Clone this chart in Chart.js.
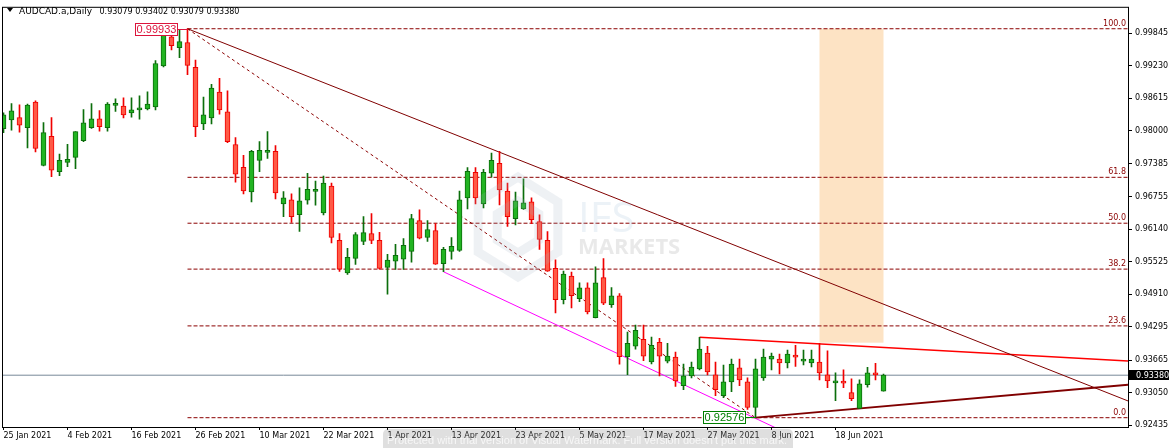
<!DOCTYPE html>
<html>
<head>
<meta charset="utf-8">
<script src="https://cdn.jsdelivr.net/npm/chart.js@4.4.0/dist/chart.umd.min.js"></script>
<style>
html, body { margin: 0; padding: 0; background: #fff; overflow: hidden; }
</style>
</head>
<body>
<canvas id="chart" width="1175" height="448"></canvas>
<script>
// AUDCAD.a daily candles, 25 Jan 2021 .. 28 Jun 2021 (one entry per trading day)
var symbolName = 'AUDCAD.a,Daily';
var opens = [0.98042,0.98210,0.98253,0.98061,0.98547,0.97350,0.97898,0.97230,0.97406,0.97500,
  0.97818,0.98061,0.98229,0.98061,0.98483,0.98472,0.98341,0.98397,0.98416,0.98453,
  0.99231,0.99781,0.99575,0.99669,0.99201,0.98135,0.98248,0.98734,0.98360,0.97743,
  0.97313,0.96845,0.97444,0.97593,0.97612,0.96621,0.96696,0.96415,0.96692,0.96856,
  0.96449,0.96957,0.95929,0.95312,0.95588,0.95910,0.96060,0.95929,0.95420,0.95536,
  0.95574,0.95723,0.96303,0.95985,0.96116,0.95491,0.95723,0.95742,0.96733,0.97219,
  0.96621,0.97200,0.97387,0.96864,0.96340,0.96527,0.96658,0.96284,0.95929,0.95401,
  0.94807,0.95256,0.94826,0.95031,0.94466,0.95224,0.94713,0.94882,0.93728,0.93928,
  0.94059,0.93629,0.94003,0.93647,0.93722,0.93180,0.93367,0.93498,0.93797,0.93386,
  0.92993,0.93255,0.93517,0.93255,0.92769,0.93330,0.93685,0.93685,0.93610,0.93760,
  0.93647,0.93610,0.93629,0.93386,0.93236,0.93236,0.93049,0.92750,0.93199,0.93404,
  0.93079];
var highs = [0.98341,0.98515,0.98496,0.98509,0.98571,0.98160,0.98253,0.97561,0.97748,0.97990,
  0.98403,0.98515,0.98384,0.98534,0.98609,0.98627,0.98627,0.98665,0.98739,0.99332,
  0.99918,0.99856,0.99910,0.99933,0.99338,0.98640,0.98883,0.98996,0.98758,0.97874,
  0.97537,0.97631,0.97799,0.97986,0.97724,0.96851,0.96808,0.96926,0.97200,0.97051,
  0.97144,0.97013,0.96060,0.95779,0.96078,0.96380,0.96439,0.96084,0.95667,0.95854,
  0.95966,0.96421,0.96509,0.96303,0.96247,0.95798,0.95985,0.96864,0.97305,0.97305,
  0.97275,0.97580,0.97612,0.97013,0.96845,0.97094,0.96733,0.96415,0.96097,0.95560,
  0.95349,0.95330,0.95125,0.95125,0.95430,0.95585,0.95037,0.94925,0.94195,0.94326,
  0.94326,0.94102,0.94078,0.93984,0.93816,0.93591,0.93629,0.94096,0.93928,0.93629,
  0.93573,0.93685,0.93685,0.93330,0.93685,0.93872,0.93797,0.93778,0.93853,0.93947,
  0.93853,0.93853,0.93984,0.93840,0.93423,0.93479,0.93311,0.93292,0.93528,0.93603,
  0.93402];
var lows = [0.97967,0.98016,0.97978,0.97679,0.97604,0.97340,0.97137,0.97156,0.97324,0.97286,
  0.97799,0.98048,0.97997,0.97997,0.98371,0.98248,0.98259,0.98221,0.98397,0.98397,
  0.99213,0.99530,0.99388,0.99063,0.97892,0.98023,0.98135,0.98315,0.97780,0.97032,
  0.96808,0.96658,0.97230,0.97481,0.96714,0.96378,0.96271,0.96097,0.96613,0.96598,
  0.96411,0.95884,0.95342,0.95286,0.95473,0.95847,0.95869,0.95383,0.94912,0.95379,
  0.95379,0.95517,0.95959,0.95910,0.95476,0.95336,0.95574,0.95723,0.96527,0.96621,
  0.96546,0.97126,0.96602,0.96196,0.96221,0.96514,0.96247,0.95761,0.95342,0.94556,
  0.94728,0.94653,0.94769,0.94541,0.94463,0.94713,0.94663,0.93588,0.93391,0.93872,
  0.93653,0.93591,0.93367,0.93610,0.93167,0.93105,0.93330,0.93479,0.93386,0.92993,
  0.92956,0.93068,0.93180,0.92731,0.92576,0.93279,0.93479,0.93404,0.93517,0.93546,
  0.93573,0.93535,0.93292,0.93143,0.92899,0.93143,0.92899,0.92746,0.93154,0.93292,
  0.93079];
var closes = [0.98304,0.98379,0.98109,0.98491,0.97668,0.97967,0.97257,0.97444,0.97462,0.97986,
  0.98154,0.98229,0.98079,0.98509,0.98491,0.98304,0.98397,0.98435,0.98509,0.99276,
  0.99893,0.99613,0.99688,0.99239,0.98079,0.98304,0.98809,0.98397,0.97799,0.97182,
  0.96864,0.97612,0.97631,0.97631,0.96826,0.96733,0.96378,0.96677,0.96897,0.96883,
  0.97013,0.95985,0.95387,0.95611,0.96041,0.96078,0.95929,0.95401,0.95555,0.95648,
  0.95835,0.96340,0.95972,0.96135,0.95480,0.95761,0.95817,0.96696,0.97238,0.96733,
  0.97219,0.97444,0.96883,0.96378,0.96677,0.96639,0.96322,0.95948,0.95349,0.94807,
  0.95293,0.94882,0.95031,0.94579,0.95125,0.94743,0.94882,0.93728,0.93984,0.94227,
  0.93741,0.93947,0.93741,0.93741,0.93273,0.93367,0.93535,0.93872,0.93442,0.93105,
  0.93255,0.93591,0.93292,0.92769,0.93498,0.93722,0.93741,0.93610,0.93778,0.93722,
  0.93685,0.93685,0.93423,0.93273,0.93255,0.93229,0.92937,0.93217,0.93423,0.93386,
  0.93380];

// time axis labels, one every 8 bars starting at bar 0
var dateLabels = ['25 Jan 2021', '4 Feb 2021', '16 Feb 2021', '26 Feb 2021', '10 Mar 2021',
  '22 Mar 2021', '1 Apr 2021', '13 Apr 2021', '23 Apr 2021', '5 May 2021', '17 May 2021',
  '27 May 2021', '8 Jun 2021', '18 Jun 2021'];
var dateStep = 8;
var priceTicks = [0.99845, 0.99230, 0.98615, 0.98000, 0.97385, 0.96755, 0.96140,
  0.95525, 0.94910, 0.94295, 0.93665, 0.93050, 0.92435];

// fibonacci retracement between the swing high and swing low
var fibLevels = [100.0, 61.8, 50.0, 38.2, 23.6, 0.0];
var fibBars = [23, 94];
var fibPrices = [0.99933, 0.92576];

// drawn objects: [bar, price] anchor pairs
var downTrend = [[23, 0.99933], [110, 0.94723]];
var resistLine = [[87, 0.94096], [110, 0.93904]];
var supportLine = [[94, 0.92576], [107, 0.92750]];
var channelLine = [[55, 0.95336], [97, 0.92350]];
var zoneBars = [102, 110];
var zonePrices = [0.93995, 0.99933];

var xMin = -0.1875, xMax = 140.5625;
var yMin = 0.92400, yMax = 1.00329;

var bullFill = '#22b422', bullLine = '#0b6e0b';
var bearFill = '#ff5a46', bearLine = '#f00000';
var fibColor = '#8b0000';
var trendColor = '#800000';

var wickData = [], bodyData = [], fillColors = [], lineColors = [];
for (var i = 0; i < opens.length; i++) {
    var up = closes[i] >= opens[i];
    wickData.push({ x: i, y: [lows[i], highs[i]] });
    bodyData.push({ x: i, y: [opens[i], closes[i]] });
    fillColors.push(up ? bullFill : bearFill);
    lineColors.push(up ? bullLine : bearLine);
}

// extend a line through two anchors up to the right edge
function ray(a, b) {
    var slope = (b[1] - a[1]) / (b[0] - a[0]);
    return [{ x: a[0], y: a[1] }, { x: xMax, y: a[1] + slope * (xMax - a[0]) }];
}

function fibPrice(level) {
    return fibPrices[1] + (fibPrices[0] - fibPrices[1]) * level / 100;
}

var datasets = [
    { type: 'bar', data: bodyData, backgroundColor: fillColors, borderColor: lineColors,
      borderWidth: 1, borderSkipped: false, barThickness: 5, minBarLength: 2, grouped: false, order: 0 },
    { type: 'bar', data: wickData, backgroundColor: lineColors, borderWidth: 0,
      barThickness: 1, grouped: false, order: 1 },
    { type: 'line', data: ray(downTrend[0], downTrend[1]), borderColor: trendColor, borderWidth: 1, order: 3 },
    { type: 'line', data: ray(resistLine[0], resistLine[1]), borderColor: '#ff0000', borderWidth: 1.5, order: 3 },
    { type: 'line', data: ray(supportLine[0], supportLine[1]), borderColor: trendColor, borderWidth: 1.8, order: 3 },
    { type: 'line', data: ray(channelLine[0], channelLine[1]), borderColor: '#ff00ff', borderWidth: 1, order: 3 },
    { type: 'line', data: [{ x: fibBars[0], y: fibPrices[0] }, { x: fibBars[1], y: fibPrices[1] }],
      borderColor: fibColor, borderWidth: 1, borderDash: [3, 3], order: 4 },
    { type: 'line', data: [{ x: xMin, y: closes[closes.length - 1] }, { x: xMax, y: closes[closes.length - 1] }],
      borderColor: '#778899', borderWidth: 1, order: 4 }
];
fibLevels.forEach(function (lvl) {
    var p = fibPrice(lvl);
    datasets.push({ type: 'line', data: [{ x: fibBars[0], y: p }, { x: xMax, y: p }],
        borderColor: fibColor, borderWidth: 1, borderDash: [4, 2], order: 5 });
});
datasets.forEach(function (d) {
    if (d.type === 'line') { d.pointRadius = 0; d.tension = 0; d.fill = false; }
});

var overlayPlugin = {
    id: 'mt4Overlay',
    beforeDatasetsDraw: function (chart) {
        var ctx = chart.ctx, xs = chart.scales.x, ys = chart.scales.y;
        var x1 = xs.getPixelForValue(zoneBars[0]), x2 = xs.getPixelForValue(zoneBars[1]);
        var y1 = ys.getPixelForValue(zonePrices[1]), y2 = ys.getPixelForValue(zonePrices[0]);
        ctx.save();
        ctx.fillStyle = '#fde3c4';
        ctx.fillRect(x1, y1, x2 - x1, y2 - y1);
        ctx.restore();
    },
    afterDraw: function (chart) {
        var ctx = chart.ctx, xs = chart.scales.x, ys = chart.scales.y, area = chart.chartArea;
        ctx.save();

        // watermark logo
        ctx.globalAlpha = 0.18;
        ctx.strokeStyle = '#9fb4c4';
        ctx.lineWidth = 9;
        ctx.beginPath();
        for (var k = 0; k < 6; k++) {
            var ang = Math.PI / 6 + k * Math.PI / 3;
            var px = 518 + 46 * Math.cos(ang), py = 227 + 50 * Math.sin(ang);
            if (k === 0) ctx.moveTo(px, py); else ctx.lineTo(px, py);
        }
        ctx.closePath();
        ctx.stroke();
        ctx.beginPath();
        for (k = 0; k < 6; k++) {
            ang = Math.PI / 6 + k * Math.PI / 3;
            px = 518 + 24 * Math.cos(ang); py = 227 + 26 * Math.sin(ang);
            if (k === 0) ctx.moveTo(px, py); else ctx.lineTo(px, py);
        }
        ctx.closePath();
        ctx.stroke();
        ctx.globalAlpha = 0.22;
        ctx.fillStyle = '#a9c6dc';
        ctx.font = '42px "Open Sans"';
        ctx.textBaseline = 'alphabetic';
        ctx.textAlign = 'left';
        ctx.fillText('IFS', 578, 232);
        ctx.fillStyle = '#9a9a9a';
        ctx.font = 'bold 22px "Open Sans"';
        ctx.fillText('MARKETS', 578, 254);
        ctx.globalAlpha = 1;

        // frame
        ctx.strokeStyle = '#000';
        ctx.lineWidth = 1;
        ctx.strokeRect(area.left + 0.5, area.top - 0.5, area.right - area.left, area.bottom - area.top + 1);

        // fibonacci level captions
        ctx.font = '8px "DejaVu Sans"';
        ctx.fillStyle = fibColor;
        ctx.textAlign = 'right';
        ctx.textBaseline = 'bottom';
        fibLevels.forEach(function (lvl) {
            ctx.fillText(lvl.toFixed(1), area.right - 2, ys.getPixelForValue(fibPrice(lvl)) - 1);
        });

        // price boxes at the swing high / low
        ctx.font = '11px "Liberation Sans"';
        ctx.textAlign = 'center';
        ctx.textBaseline = 'middle';
        var hx = xs.getPixelForValue(fibBars[0]), hy = Math.round(ys.getPixelForValue(fibPrices[0])) + 0.5;
        ctx.strokeStyle = '#dc143c';
        ctx.fillStyle = '#fff';
        ctx.fillRect(135.5, hy - 6, 42, 12);
        ctx.strokeRect(135.5, hy - 6, 42, 12);
        ctx.beginPath(); ctx.moveTo(177.5, hy); ctx.lineTo(hx, hy); ctx.stroke();
        ctx.fillStyle = '#dc143c';
        ctx.fillText(fibPrices[0].toFixed(5), 156.5, hy + 0.5);

        var lx = xs.getPixelForValue(fibBars[1]), ly = Math.round(ys.getPixelForValue(fibPrices[1])) - 0.5;
        ctx.strokeStyle = '#008000';
        ctx.fillStyle = '#fff';
        ctx.fillRect(703.5, ly - 6, 42, 12);
        ctx.strokeRect(703.5, ly - 6, 42, 12);
        ctx.beginPath(); ctx.moveTo(745.5, ly); ctx.lineTo(lx, ly); ctx.stroke();
        ctx.fillStyle = '#008000';
        ctx.fillText(fibPrices[1].toFixed(5), 724.5, ly + 0.5);

        // current price tag on the axis
        var last = closes[closes.length - 1];
        var cy = Math.round(ys.getPixelForValue(last));
        ctx.fillStyle = '#000';
        ctx.fillRect(area.right + 1, cy - 5, 40, 10);
        ctx.fillStyle = '#fff';
        ctx.font = '8px "DejaVu Sans"';
        ctx.textAlign = 'left';
        ctx.fillText(last.toFixed(5), area.right + 8, cy + 0.5);

        // header
        ctx.fillStyle = '#000';
        ctx.beginPath(); ctx.moveTo(7, 8); ctx.lineTo(13, 8); ctx.lineTo(10, 12); ctx.closePath(); ctx.fill();
        ctx.textBaseline = 'alphabetic';
        ctx.font = '9px "DejaVu Sans"';
        ctx.fillText(symbolName, 19, 14);
        var n = opens.length - 1;
        ctx.font = '8px "DejaVu Sans"';
        ctx.fillText([opens[n], highs[n], lows[n], closes[n]].map(function (v) { return v.toFixed(5); }).join(' '), 99.5, 14);

        // trial watermark strip
        ctx.globalAlpha = 0.28;
        ctx.fillStyle = '#8c8c8c';
        ctx.beginPath();
        if (ctx.roundRect) ctx.roundRect(383, 429, 410, 26, 5); else ctx.rect(383, 429, 410, 26);
        ctx.fill();
        ctx.globalAlpha = 0.75;
        ctx.fillStyle = '#fff';
        ctx.font = '11px "Liberation Sans"';
        ctx.textBaseline = 'middle';
        ctx.fillText('Protected with trial version of Visual Watermark. Full version doesn\'t put this mark.', 387, 441);
        ctx.restore();
    }
};

new Chart(document.getElementById('chart'), {
    type: 'bar',
    data: { datasets: datasets },
    options: {
        responsive: false,
        animation: false,
        devicePixelRatio: 1,
        layout: { padding: { left: 2, top: 3, right: 0, bottom: 0 }, autoPadding: false },
        plugins: { legend: { display: false }, tooltip: { enabled: false } },
        scales: {
            x: {
                type: 'linear', min: xMin, max: xMax, offset: false,
                grid: { drawOnChartArea: false, drawTicks: true, tickLength: 3, color: '#000', offset: false },
                border: { display: false },
                afterBuildTicks: function (scale) {
                    scale.ticks = dateLabels.map(function (l, k) { return { value: k * dateStep }; });
                },
                afterFit: function (scale) { scale.height = 21; },
                ticks: {
                    autoSkip: false, maxRotation: 0, align: 'start', padding: 1, color: '#000',
                    font: { family: 'DejaVu Sans', size: 8 },
                    callback: function (v, idx) { return dateLabels[idx]; }
                }
            },
            y: {
                type: 'linear', position: 'right', min: yMin, max: yMax,
                grid: { drawOnChartArea: false, drawTicks: true, tickLength: 4, color: '#000' },
                border: { display: false },
                afterBuildTicks: function (scale) {
                    scale.ticks = priceTicks.map(function (v) { return { value: v }; });
                },
                afterFit: function (scale) { scale.width = 47; },
                ticks: {
                    autoSkip: false, padding: 3, color: '#000',
                    font: { family: 'DejaVu Sans', size: 8 },
                    callback: function (v) { return v.toFixed(5); }
                }
            }
        }
    },
    plugins: [overlayPlugin]
});
</script>
</body>
</html>
